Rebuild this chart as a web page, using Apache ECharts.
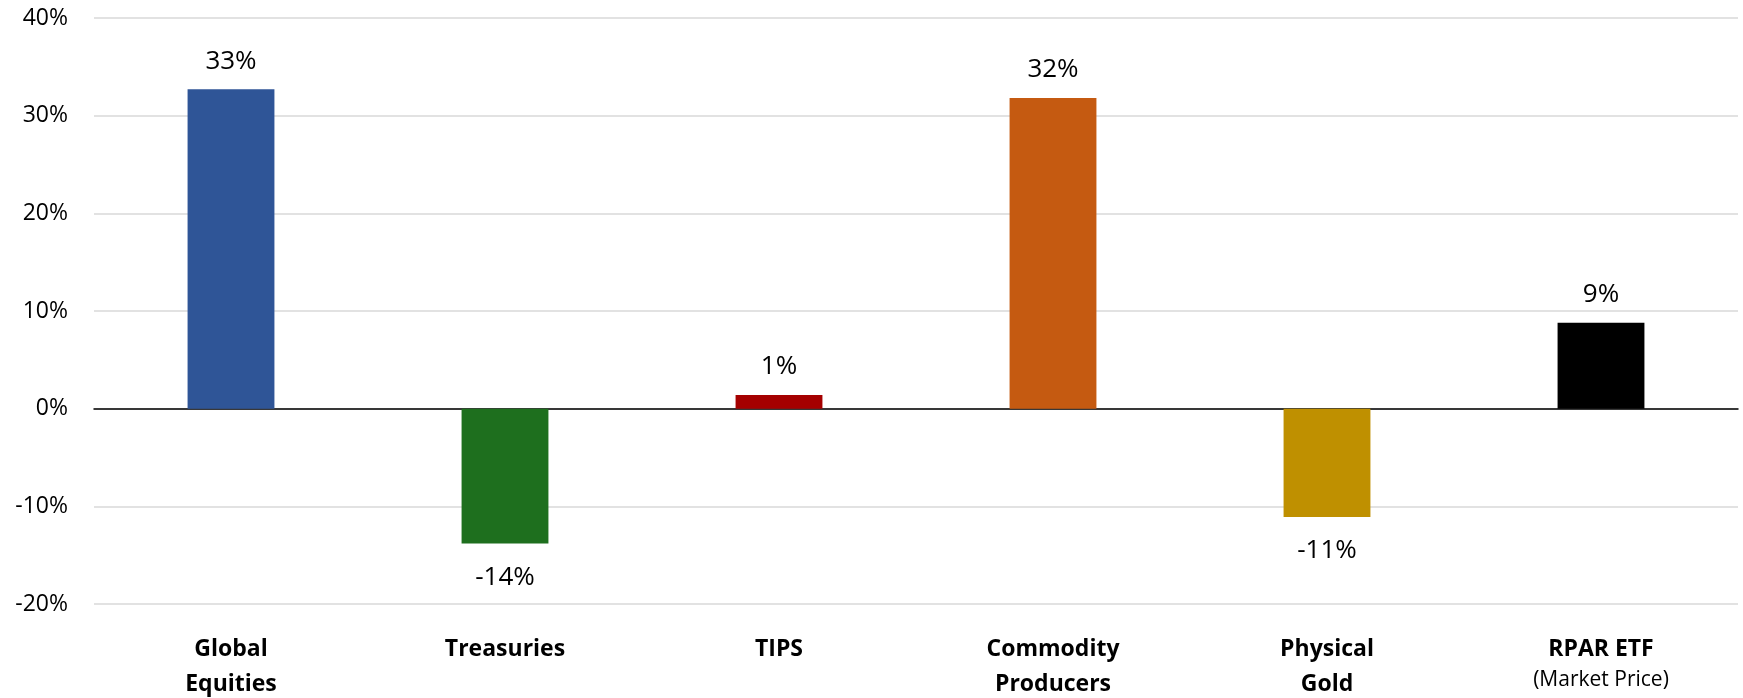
<!DOCTYPE html>
<html>
<head>
<meta charset="utf-8">
<script src="https://cdn.jsdelivr.net/npm/echarts@6/dist/echarts.min.js"></script>
<style>html,body{margin:0;padding:0;background:#fff}#c{width:1743px;height:698px}</style>
</head>
<body>
<div id="c"></div>
<script>
const categories = ["Global\nEquities", "Treasuries", "TIPS", "Commodity\nProducers", "Physical\nGold", "RPAR ETF\n{s|(Market Price)}"];
const values = [32.7, -13.8, 1.4, 31.8, -11.1, 8.8];
const colors = ["#2F5597", "#1E6F1E", "#A50000", "#C55A11", "#BF9000", "#000000"];
const yTicks = { min: -20, max: 40, interval: 10 };

const FONT = "Open Sans";
const chart = echarts.init(document.getElementById('c'));
chart.setOption({
  animation: false,
  grid: { left: 94, right: 5, top: 18, bottom: 94, outerBoundsMode: 'none', containLabel: false },
  xAxis: [{
    type: 'category', data: categories, position: 'bottom',
    axisLine: { show: false, onZero: false }, axisTick: { show: false },
    axisLabel: {
      interval: 0, margin: 28, color: '#000', fontFamily: FONT, fontWeight: 'bold', fontSize: 23, lineHeight: 35,
      rich: { s: { fontSize: 21, fontWeight: 'normal', fontFamily: FONT, color: '#000', lineHeight: 27 } }
    }
  }, {
    type: 'category', data: categories, position: 'bottom',
    axisLine: { show: true, onZero: true, lineStyle: { color: '#000', width: 1.5 } },
    axisTick: { show: false }, axisLabel: { show: false }
  }],
  yAxis: {
    type: 'value', min: yTicks.min, max: yTicks.max, interval: yTicks.interval,
    axisLine: { show: false }, axisTick: { show: false },
    axisLabel: { formatter: v => v + '%', color: '#000', fontFamily: FONT, fontSize: 23, margin: 26 },
    splitLine: { lineStyle: { color: '#d9d9d9', width: 1.5 } }
  },
  series: [{
    type: 'bar', xAxisIndex: 0, barWidth: '31.7%',
    data: values.map((v, i) => ({
      value: v,
      itemStyle: { color: colors[i] },
      label: { position: v < 0 ? 'bottom' : 'top', distance: v < 0 ? 21 : 15 }
    })),
    label: {
      show: true, color: '#000', fontFamily: FONT, fontSize: 26,
      formatter: p => Math.round(p.value) + '%'
    }
  }]
});
</script>
</body>
</html>
